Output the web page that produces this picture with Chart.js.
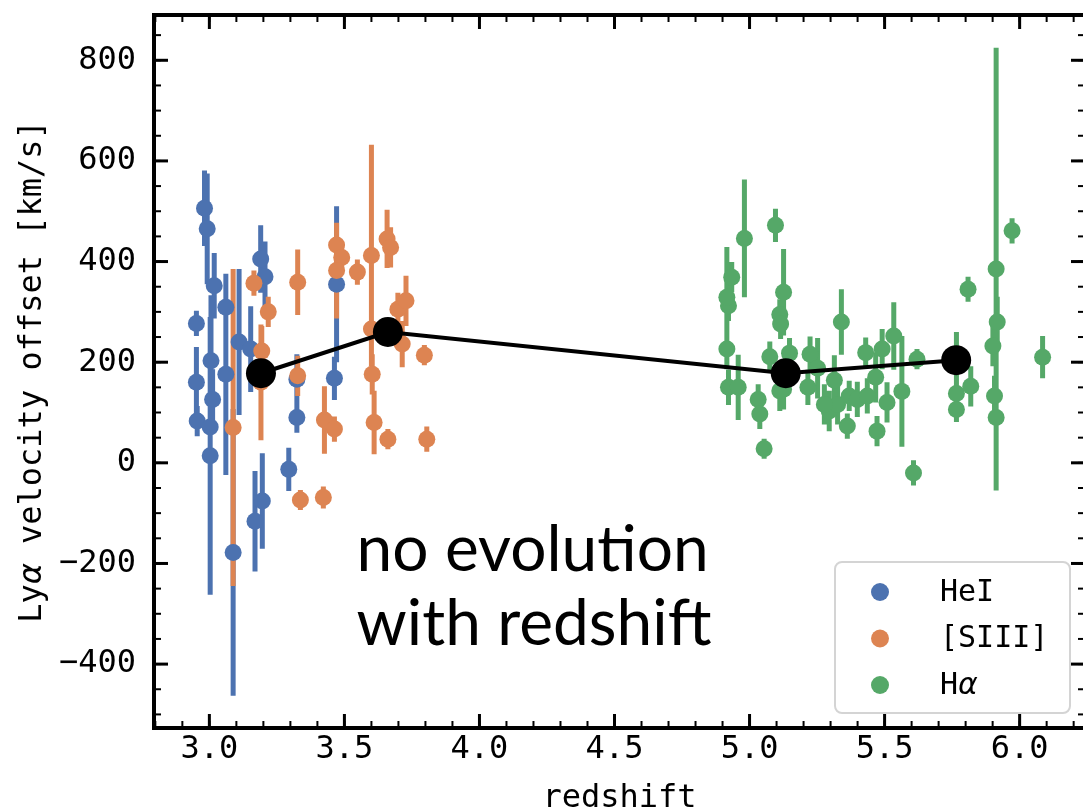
<!DOCTYPE html>
<html>
<head>
<meta charset="utf-8">
<script src="https://cdn.jsdelivr.net/npm/chart.js@4.4.1/dist/chart.umd.min.js"></script>
<style>
  html, body { margin: 0; padding: 0; background: #ffffff; overflow: hidden; }
  #wrap { width: 1100px; height: 812px; position: relative; }
</style>
</head>
<body>
<div id="wrap"><canvas id="c"></canvas></div>
<script>
// HeI systemic redshifts
const heiZ   = [2.952, 2.952, 2.955, 2.982, 2.992, 3.006, 3.012, 3.003, 3.003, 3.018, 3.061, 3.061, 3.11, 3.153, 3.190, 3.206, 3.088, 3.196, 3.169, 3.294, 3.324, 3.324, 3.463, 3.471];
const heiV   = [277, 160, 83, 506, 465, 203, 126, 71, 14, 352, 309, 176, 240, 226, 405, 370, -178, -76, -116, -13, 166, 90, 168, 355];
const heiErr = [25, 70, 30, 75, 110, 130, 60, 40, 276, 65, 60, 200, 145, 85, 67, 70, 285, 95, 100, 43, 50, 30, 43, 155];

// [SIII] systemic redshifts
const siiiZ   = [3.088, 3.165, 3.194, 3.191, 3.218, 3.327, 3.327, 3.337, 3.422, 3.426, 3.463, 3.471, 3.490, 3.471, 3.548, 3.600, 3.600, 3.603, 3.610, 3.658, 3.671, 3.698, 3.728, 3.714, 3.796, 3.661, 3.805];
const siiiV   = [70, 357, 222, 160, 300, 359, 173, -74, -69, 85, 67, 433, 408, 382, 379, 412, 266, 176, 80, 445, 428, 305, 322, 236, 214, 47, 47];
const siiiErr = [315, 25, 50, 115, 30, 65, 40, 20, 22, 67, 25, 30, 25, 95, 25, 220, 60, 40, 63, 58, 40, 33, 50, 46, 20, 20, 25];

// H-alpha systemic redshifts
const haZ   = [4.916, 4.922, 4.916, 4.934, 4.922, 4.958, 4.981, 5.032, 5.038, 5.054, 5.075, 5.096, 5.126, 5.112, 5.115, 5.148, 5.126, 5.112, 5.224, 5.252, 5.216, 5.314, 5.340, 5.295, 5.326, 5.277, 5.369, 5.362, 5.430, 5.467, 5.399, 5.436, 5.472, 5.509, 5.491, 5.534, 5.564, 5.607, 5.620, 5.766, 5.766, 5.819, 5.809, 5.913, 5.917, 5.901, 5.907, 5.913, 5.972, 6.085, 5.766];
const haV   = [226, 312, 329, 369, 150, 150, 446, 126, 97, 28, 211, 472, 339, 295, 276, 218, 146, 143, 216, 188, 150, 164, 280, 103, 116, 116, 133, 73, 219, 170, 126, 133, 63, 120, 226, 252, 142, -20, 206, 138, 106, 152, 345, 385, 280, 232, 133, 90, 461, 210, 215];
const haErr = [40, 30, 100, 30, 35, 65, 117, 30, 30, 20, 30, 33, 86, 30, 30, 30, 40, 40, 35, 60, 35, 50, 65, 40, 40, 40, 30, 25, 30, 50, 35, 35, 30, 40, 40, 67, 110, 25, 20, 35, 25, 40, 25, 440, 50, 40, 40, 30, 25, 42, 45];

// binned means
const meanZ = [3.191, 3.661, 5.134, 5.765];
const meanV = [178, 260, 178, 204];

// axes
const xTickValues = [3.0, 3.5, 4.0, 4.5, 5.0, 5.5, 6.0];
const yTickValues = [-400, -200, 0, 200, 400, 600, 800];
const xMinorStep = 0.1;
const yMinorStep = 50;
const xRange = [2.795, 6.242];
const yRange = [-527, 890];

const seriesNames = ['HeI', '[SIII]', 'Hα'];
const xTitle = 'redshift';
const yTitle = 'Lyα velocity offset [km/s]';
const noteLines = ['no evolution', 'with redshift'];
const noteAt = { x: 3.545, y: -215 };

const BLUE = '#4c72b0', ORANGE = '#dd8452', GREEN = '#55a868';
const MONO = '"DejaVu Sans Mono"';

function points(zs, vs) { return zs.map((z, i) => ({ x: z, y: vs[i] })); }
function bars(zs, vs, es) {
  return zs.flatMap((z, i) => [{ x: z, y: vs[i] - es[i] }, { x: z, y: vs[i] + es[i] }, { x: z, y: null }]);
}
function barSet(data, color, order) {
  return { data, showLine: true, spanGaps: false, borderColor: color, borderWidth: 5,
           borderCapStyle: 'butt', pointRadius: 0, pointHoverRadius: 0, order };
}
function markerSet(label, data, color, order) {
  return { label, data, showLine: false, pointRadius: 8.5, pointHoverRadius: 8.5,
           pointBackgroundColor: color, pointBorderWidth: 0, borderColor: color,
           backgroundColor: color, order, legendEntry: true };
}

// text with Greek letters set in italic, as in math mode
function drawMixed(ctx, text, x, y, size, align) {
  const parts = [];
  for (const ch of text) {
    const greek = /[\u0370-\u03ff]/.test(ch);
    const font = greek ? `italic ${size}px "DejaVu Sans"` : `${size}px ${MONO}`;
    if (parts.length && parts[parts.length - 1].font === font) parts[parts.length - 1].t += ch;
    else parts.push({ t: ch, font });
  }
  let total = 0;
  parts.forEach(p => { ctx.font = p.font; p.w = ctx.measureText(p.t).width; total += p.w; });
  let cx = align === 'center' ? x - total / 2 : x;
  ctx.textAlign = 'left';
  parts.forEach(p => { ctx.font = p.font; ctx.fillText(p.t, cx, y); cx += p.w; });
}

function stepValues(min, max, step) {
  const out = [];
  for (let k = Math.ceil(min / step - 1e-9); k * step <= max + 1e-9; k++) out.push(+(k * step).toFixed(6));
  return out;
}

const framePlugin = {
  id: 'frame',
  afterDatasetsDraw(chart) {
    const { ctx, chartArea: a, scales: { x, y } } = chart;
    ctx.save();
    // annotation
    ctx.fillStyle = '#000';
    ctx.font = '64px Lato';
    ctx.textAlign = 'left';
    ctx.textBaseline = 'alphabetic';
    const nx = x.getPixelForValue(noteAt.x), ny = y.getPixelForValue(noteAt.y);
    noteLines.forEach((t, i) => ctx.fillText(t, nx, ny + i * 74));

    // inward ticks on all four sides
    ctx.strokeStyle = '#000';
    const seg = (x1, y1, x2, y2) => { ctx.beginPath(); ctx.moveTo(x1, y1); ctx.lineTo(x2, y2); ctx.stroke(); };
    const drawTicks = (xs, ys, len) => {
      xs.forEach(v => { const p = x.getPixelForValue(v); seg(p, a.bottom, p, a.bottom - len); seg(p, a.top, p, a.top + len); });
      ys.forEach(v => { const p = y.getPixelForValue(v); seg(a.left, p, a.left + len, p); seg(a.right, p, a.right - len, p); });
    };
    ctx.lineWidth = 2;
    drawTicks(stepValues(x.min, x.max, xMinorStep), stepValues(y.min, y.max, yMinorStep), 7);
    ctx.lineWidth = 3;
    drawTicks(xTickValues, yTickValues, 14);
    ctx.lineWidth = 4;
    ctx.strokeRect(a.left, a.top, a.right - a.left, a.bottom - a.top);

    // y-axis title
    ctx.translate(33, (a.top + a.bottom) / 2);
    ctx.rotate(-Math.PI / 2);
    ctx.textBaseline = 'middle';
    drawMixed(ctx, yTitle, 0, 0, 32, 'center');
    ctx.restore();
  },
  afterDraw(chart) {
    const { ctx, chartArea: a } = chart;
    const entries = chart.data.datasets.filter(d => d.legendEntry).sort((p, q) => q.order - p.order);
    const w = 235, h = 151;
    const right = a.right - 15, bottom = a.bottom - 15;
    const left = right - w, top = bottom - h;
    ctx.save();
    ctx.beginPath();
    ctx.roundRect(left, top, w, h, 7);
    ctx.fillStyle = 'rgba(255,255,255,0.8)';
    ctx.fill();
    ctx.strokeStyle = '#d4d4d4';
    ctx.lineWidth = 2;
    ctx.stroke();
    entries.forEach((d, i) => {
      const cy = top + 30 + i * 46.5;
      ctx.beginPath();
      ctx.arc(left + 45, cy, 9, 0, Math.PI * 2);
      ctx.fillStyle = d.pointBackgroundColor;
      ctx.fill();
      ctx.fillStyle = '#000';
      ctx.textBaseline = 'middle';
      drawMixed(ctx, d.label, left + 105, cy + 1, 30, 'left');
    });
    ctx.restore();
  }
};

// keep the plot box fixed: no extra room for overhanging tick labels
function noOverhang(scale) {
  scale.paddingTop = 0; scale.paddingBottom = 0;
  scale.paddingLeft = 0; scale.paddingRight = 0;
}

new Chart(document.getElementById('c'), {
  type: 'scatter',
  data: {
    datasets: [
      barSet(bars(heiZ, heiV, heiErr), BLUE, 7),
      barSet(bars(siiiZ, siiiV, siiiErr), ORANGE, 6),
      barSet(bars(haZ, haV, haErr), GREEN, 5),
      markerSet(seriesNames[0], points(heiZ, heiV), BLUE, 4),
      markerSet(seriesNames[1], points(siiiZ, siiiV), ORANGE, 3),
      markerSet(seriesNames[2], points(haZ, haV), GREEN, 2),
      { data: points(meanZ, meanV), showLine: true, borderColor: '#000', borderWidth: 4,
        pointRadius: 15, pointHoverRadius: 15, pointBackgroundColor: '#000', pointBorderWidth: 0, order: 1 }
    ]
  },
  options: {
    responsive: true,
    maintainAspectRatio: false,
    animation: false,
    events: [],
    layout: { padding: { left: 0, top: 14, right: 7, bottom: 0 } },
    plugins: { legend: { display: false }, tooltip: { enabled: false } },
    scales: {
      x: {
        type: 'linear', min: xRange[0], max: xRange[1],
        grid: { display: false, drawTicks: false }, border: { display: false },
        afterBuildTicks: axis => { axis.ticks = xTickValues.map(v => ({ value: v })); },
        afterFit: scale => { scale.height = 84; noOverhang(scale); },
        ticks: { padding: 2, color: '#000', font: { family: 'DejaVu Sans Mono', size: 32 },
                 maxRotation: 0, autoSkip: false, callback: v => Number(v).toFixed(1) },
        title: { display: true, text: xTitle, color: '#000', padding: { top: 0, bottom: 1 },
                 font: { family: 'DejaVu Sans Mono', size: 32, lineHeight: 0.75 } }
      },
      y: {
        type: 'linear', min: yRange[0], max: yRange[1],
        grid: { display: false, drawTicks: false }, border: { display: false },
        afterBuildTicks: axis => { axis.ticks = yTickValues.map(v => ({ value: v })); },
        afterFit: scale => { scale.width = 154; noOverhang(scale); },
        ticks: { padding: 18, color: '#000', font: { family: 'DejaVu Sans Mono', size: 32 },
                 autoSkip: false, callback: v => (v < 0 ? '\u2212' + Math.abs(v) : String(v)) }
      }
    }
  },
  plugins: [framePlugin]
});
</script>
</body>
</html>
